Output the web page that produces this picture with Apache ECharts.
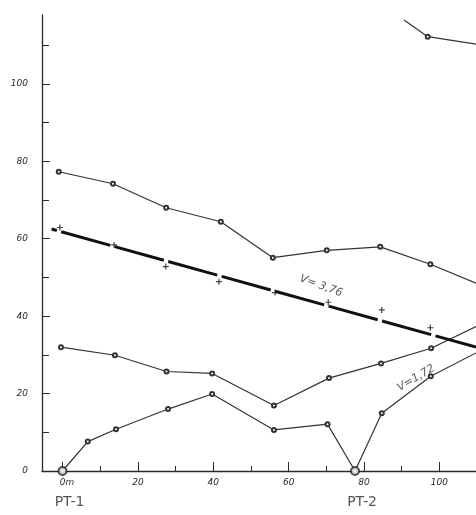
<!DOCTYPE html>
<html><head><meta charset="utf-8">
<script src="https://cdn.jsdelivr.net/npm/echarts@6/dist/echarts.min.js"></script>
<style>html,body{margin:0;padding:0;background:#fff}#c{width:476px;height:515px}</style>
</head><body><div id="c"></div>
<script>
// tick values
const xMajorTicks = [0, 20, 40, 60, 80, 100];
const xMinorTicks = [10, 30, 50, 70, 90];
const yMajorTicks = [0, 20, 40, 60, 80, 100];
const yMinorTicks = [10, 30, 50, 70, 90, 110];
const xTickLabels = ['0m', '20', '40', '60', '80', '100'];
const yTickLabels = ['0', '20', '40', '60', '80', '100'];

// series values [distance, value]
const seriesTop = [[90.6, 116.5], [96.9, 112.2], [109.7, 110.3]];
const seriesA = [[-1.0, 77.3], [13.4, 74.2], [27.5, 68.0], [42.0, 64.4], [55.8, 55.1], [70.1, 57.0], [84.3, 57.9], [97.6, 53.4], [109.7, 48.5]];
const seriesB = [[-0.4, 32.0], [13.9, 29.9], [27.6, 25.7], [39.7, 25.2], [56.1, 16.9], [70.7, 24.0], [84.5, 27.8], [97.8, 31.7], [109.7, 37.3]];
const seriesC = [[0, 0], [6.7, 7.6], [14.2, 10.8], [28.0, 16.0], [39.7, 19.9], [56.1, 10.6], [70.3, 12.1], [77.6, 0], [84.7, 14.9], [97.7, 24.5], [109.7, 30.5]];
const trendLine = [[-2.9, 62.5], [109.7, 32.0]];
const trendPoints = [[-0.7, 62.9], [13.7, 58.4], [27.4, 52.8], [41.5, 48.9], [56.4, 46.1], [70.5, 43.6], [84.7, 41.6], [97.6, 37.0]];
const stations = [[0, 0, 'PT-1'], [77.6, 0, 'PT-2']];
const annotations = [[68.6, 47.8, 'V= 3,76', -20], [93.8, 24.0, 'V=1,72', 31]];

const ink = '#2a2a2a';
function withEnds(arr, noStart) {
  return arr.map((p, i) => {
    const edge = (i === arr.length - 1) || (noStart && i === 0);
    return edge ? { value: p, symbol: 'none' } : { value: p };
  });
}
function thinLine(name, data, noStart) {
  return {
    name, type: 'line', data: withEnds(data, noStart),
    symbol: 'emptyCircle', symbolSize: 4,
    lineStyle: { color: '#333', width: 1.2 },
    itemStyle: { color: '#333', borderWidth: 1 },
    clip: true, z: 3, animation: false
  };
}
const font = 'DejaVu Sans';
const chart = echarts.init(document.getElementById('c'), null, { renderer: 'canvas' });
chart.setOption({
  backgroundColor: '#fff',
  animation: false,
  grid: { left: 42, right: 0, top: 15, bottom: 44 },
  xAxis: [{
    type: 'value', min: -5.44, max: 109.7, position: 'bottom',
    splitLine: { show: false },
    axisLine: { show: true, onZero: false, lineStyle: { color: ink, width: 1.3 } },
    axisTick: { show: true, inside: true, length: 9, customValues: xMajorTicks, lineStyle: { color: ink, width: 1 } },
    axisLabel: {
      customValues: xMajorTicks, margin: 7, color: ink, fontFamily: font, fontStyle: 'italic', fontSize: 9,
      formatter: v => {
        const t = xTickLabels[xMajorTicks.indexOf(v)];
        return v === 0 ? '{first|' + t + '}' : t;
      },
      rich: { first: { padding: [0, 0, 0, 9], color: ink, fontFamily: font, fontStyle: 'italic', fontSize: 9 } }
    }
  }, {
    type: 'value', min: -5.44, max: 109.7, position: 'bottom',
    splitLine: { show: false },
    axisLine: { show: false, onZero: false },
    axisTick: { show: true, inside: true, length: 5, customValues: xMinorTicks, lineStyle: { color: ink, width: 1 } },
    axisLabel: { show: false }
  }],
  yAxis: [{
    type: 'value', min: 0, max: 117.8, position: 'left',
    splitLine: { show: false },
    axisLine: { show: true, onZero: false, lineStyle: { color: ink, width: 1.3 } },
    axisTick: { show: true, inside: true, length: 8, customValues: yMajorTicks, lineStyle: { color: ink, width: 1 } },
    axisLabel: {
      customValues: yMajorTicks, margin: 14, color: ink, fontFamily: font, fontStyle: 'italic', fontSize: 9,
      formatter: v => yTickLabels[yMajorTicks.indexOf(v)]
    }
  }, {
    type: 'value', min: 0, max: 117.8, position: 'left',
    splitLine: { show: false },
    axisLine: { show: false, onZero: false },
    axisTick: { show: true, inside: true, length: 7, customValues: yMinorTicks, lineStyle: { color: ink, width: 1 } },
    axisLabel: { show: false }
  }],
  series: [
    thinLine('top', seriesTop, true),
    thinLine('A', seriesA, false),
    thinLine('B', seriesB, false),
    thinLine('C', seriesC, false),
    {
      name: 'V=3,76', type: 'line', data: trendLine, symbol: 'none',
      lineStyle: { color: '#111', width: 3, type: [51, 4.5], dashOffset: 45.5, cap: 'butt' },
      clip: true, z: 4
    },
    {
      name: 'plus', type: 'scatter', data: trendPoints,
      symbol: 'path://M4,0h2v4h4v2h-4v4h-2v-4h-4v-2h4z', symbolSize: 6,
      itemStyle: { color: '#111' }, z: 5
    },
    {
      name: 'stations', type: 'scatter', data: stations,
      symbol: 'emptyCircle', symbolSize: 8,
      itemStyle: { color: '#222', borderWidth: 1.5 },
      label: {
        show: true, position: 'inside', offset: [7, 31],
        formatter: p => p.data[2], color: ink, fontFamily: font, fontSize: 14
      },
      z: 6
    },
    {
      name: 'notes', type: 'scatter', symbol: 'circle', symbolSize: 1,
      itemStyle: { color: 'rgba(0,0,0,0)' },
      data: annotations.map(a => ({
        value: [a[0], a[1]],
        label: { show: true, formatter: a[2], rotate: a[3], position: 'inside',
                 color: ink, fontFamily: font, fontStyle: 'italic', fontSize: 11 }
      })),
      z: 6
    }
  ]
});
</script>
</body></html>
